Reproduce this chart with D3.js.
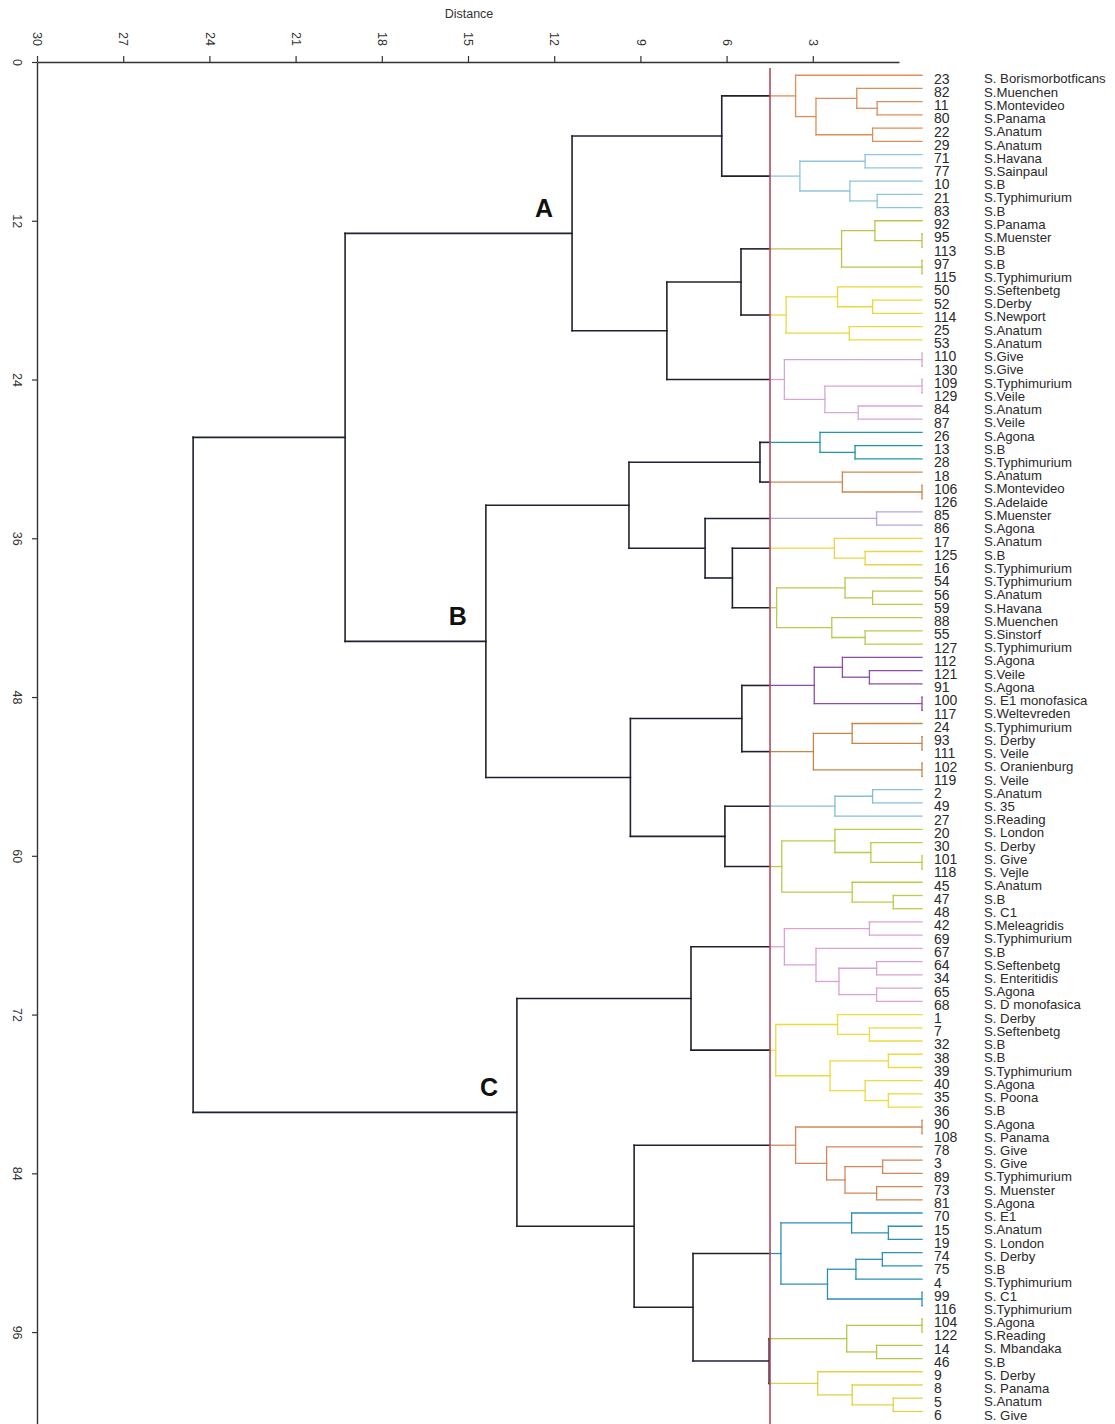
<!DOCTYPE html>
<html>
<head>
<meta charset="utf-8">
<script src="https://cdn.jsdelivr.net/npm/d3@7"></script>
<style>
  body { margin: 0; background: #fff; }
  svg { display: block; }
  text { font-family: "Liberation Sans", Arial, sans-serif; }
</style>
</head>
<body>
<svg id="chart" width="1115" height="1424"></svg>
<script>
// Isolate numbers, top to bottom in dendrogram order
const leafIds = [
  23, 82, 11, 80, 22, 29, 71, 77, 10, 21, 83, 92, 95, 113, 97, 115, 50, 52, 114, 25, 53,
  110, 130, 109, 129, 84, 87,
  26, 13, 28, 18, 106, 126, 85, 86, 17, 125, 16, 54, 56, 59, 88, 55, 127,
  112, 121, 91, 100, 117, 24, 93, 111, 102, 119, 2, 49, 27, 20, 30, 101, 118, 45, 47, 48,
  42, 69, 67, 64, 34, 65, 68, 1, 7, 32, 38, 39, 40, 35, 36,
  90, 108, 78, 3, 89, 73, 81, 70, 15, 19, 74, 75, 4, 99, 116, 104, 122, 14, 46, 9, 8, 5, 6
];

// Serovar of each isolate, same order
const leafNames = [
  "S. Borismorbotficans", "S.Muenchen", "S.Montevideo", "S.Panama", "S.Anatum", "S.Anatum",
  "S.Havana", "S.Sainpaul", "S.B", "S.Typhimurium", "S.B", "S.Panama", "S.Muenster", "S.B",
  "S.B", "S.Typhimurium", "S.Seftenbetg", "S.Derby", "S.Newport", "S.Anatum", "S.Anatum",
  "S.Give", "S.Give", "S.Typhimurium", "S.Veile", "S.Anatum", "S.Veile",
  "S.Agona", "S.B", "S.Typhimurium", "S.Anatum", "S.Montevideo", "S.Adelaide", "S.Muenster",
  "S.Agona", "S.Anatum", "S.B", "S.Typhimurium", "S.Typhimurium", "S.Anatum", "S.Havana",
  "S.Muenchen", "S.Sinstorf", "S.Typhimurium",
  "S.Agona", "S.Veile", "S.Agona", "S. E1 monofasica", "S.Weltevreden", "S.Typhimurium",
  "S. Derby", "S. Veile", "S. Oranienburg", "S. Veile", "S.Anatum", "S. 35", "S.Reading",
  "S. London", "S. Derby", "S. Give", "S. Vejle", "S.Anatum", "S.B", "S. C1",
  "S.Meleagridis", "S.Typhimurium", "S.B", "S.Seftenbetg", "S. Enteritidis", "S.Agona",
  "S. D monofasica", "S. Derby", "S.Seftenbetg", "S.B", "S.B", "S.Typhimurium", "S.Agona",
  "S. Poona", "S.B",
  "S.Agona", "S. Panama", "S. Give", "S. Give", "S.Typhimurium", "S. Muenster", "S.Agona",
  "S. E1", "S.Anatum", "S. London", "S. Derby", "S.B", "S.Typhimurium", "S. C1",
  "S.Typhimurium", "S.Agona", "S.Reading", "S. Mbandaka", "S.B", "S. Derby", "S. Panama",
  "S.Anatum", "S. Give"
];

// Agglomeration steps: [cluster id, first member, second member, distance]
// (numbers are isolates, strings are clusters formed earlier)
const merges = [
  ["a1", 11, 80, 1.56], ["a2", 82, "a1", 2.27], ["a3", 22, 29, 1.72], ["a4", "a2", "a3", 3.69],
  ["a5", 23, "a4", 4.40],
  ["a6", 71, 77, 1.98], ["a7", 21, 83, 1.56], ["a8", 10, "a7", 2.51], ["a9", "a6", "a8", 4.25],
  ["a10", "a5", "a9", 6.97],
  ["a11", 95, 113, 0], ["a12", 92, "a11", 1.64], ["a13", 97, 115, 0], ["a14", "a12", "a13", 2.80],
  ["a15", 52, 114, 1.72], ["a16", 50, "a15", 2.94], ["a17", 25, 53, 2.53], ["a18", "a16", "a17", 4.73],
  ["a19", "a14", "a18", 6.30],
  ["a20", 110, 130, 0], ["a21", 109, 129, 0], ["a22", 84, 87, 2.22], ["a23", "a21", "a22", 3.38],
  ["a24", "a20", "a23", 4.79],
  ["a25", "a19", "a24", 8.88],
  ["A", "a10", "a25", 12.18],

  ["b1", 13, 28, 2.33], ["b2", 26, "b1", 3.55], ["b3", 106, 126, 0], ["b4", 18, "b3", 2.77],
  ["b5", "b2", "b4", 5.64],
  ["b6", 85, 86, 1.58],
  ["b7", 125, 16, 1.98], ["b8", 17, "b7", 3.05],
  ["b9", 56, 59, 1.72], ["b10", 54, "b9", 2.68], ["b11", 55, 127, 1.98], ["b12", 88, "b11", 3.14],
  ["b13", "b10", "b12", 5.06],
  ["b14", "b8", "b13", 6.60], ["b15", "b6", "b14", 7.55], ["b16", "b5", "b15", 10.20],
  ["b17", 121, 91, 1.83], ["b18", 112, "b17", 2.77], ["b19", 100, 117, 0], ["b20", "b18", "b19", 3.75],
  ["b21", 93, 111, 0], ["b22", 24, "b21", 2.43], ["b23", 102, 119, 0], ["b24", "b22", "b23", 3.78],
  ["b25", "b20", "b24", 6.27],
  ["b26", 2, 49, 1.72], ["b27", "b26", 27, 3.03],
  ["b28", 101, 118, 0], ["b29", 30, "b28", 1.78], ["b30", 20, "b29", 3.03],
  ["b31", 47, 48, 1.00], ["b32", 45, "b31", 2.43], ["b33", "b30", "b32", 4.88],
  ["b34", "b27", "b33", 6.86], ["b35", "b25", "b34", 10.15],
  ["B", "b16", "b35", 15.18],

  ["c1", 42, 69, 1.83], ["c2", 64, 34, 1.58], ["c3", 65, 68, 1.58], ["c4", "c2", "c3", 2.89],
  ["c5", 67, "c4", 3.69], ["c6", "c1", "c5", 4.79],
  ["c7", 7, 32, 1.83], ["c8", 1, "c7", 2.94], ["c9", 38, 39, 1.17], ["c10", 35, 36, 1.17],
  ["c11", 40, "c10", 1.98], ["c12", "c9", "c11", 3.20], ["c13", "c8", "c12", 5.09],
  ["c14", "c6", "c13", 8.04],
  ["c15", 90, 108, 0], ["c16", 3, 89, 1.37], ["c17", 73, 81, 1.58], ["c18", "c16", "c17", 2.68],
  ["c19", 78, "c18", 3.32], ["c20", "c15", "c19", 4.40],
  ["c21", 15, 19, 1.17], ["c22", 70, "c21", 2.45], ["c23", 74, 75, 1.38], ["c24", "c23", 4, 2.30],
  ["c25", 99, 116, 0], ["c26", "c24", "c25", 3.29], ["c27", "c22", "c26", 4.91],
  ["c28", 104, 122, 0], ["c29", 14, 46, 1.58], ["c30", "c28", "c29", 2.62],
  ["c31", 5, 6, 1.00], ["c32", 8, "c31", 2.43], ["c33", 9, "c32", 3.63],
  ["c34", "c30", "c33", 5.32], ["c35", "c27", "c34", 7.97], ["c36", "c20", "c35", 10.02],
  ["C", "c14", "c36", 14.10],

  ["AB", "A", "B", 20.08],
  ["root", "AB", "C", 25.37]
];

// Clusters below the cut: first isolate, last isolate, colour
const groupFirst = [23, 71, 92, 50, 110, 26, 18, 85, 17, 54, 112, 24, 2, 20, 42, 1, 90, 70, 104, 9];
const groupLast  = [29, 83, 115, 53, 87, 28, 126, 86, 16, 127, 117, 119, 27, 48, 68, 36, 81, 116, 46, 6];
const groupColors = [
  "#dc8f58", "#8ec6dc", "#c2c24a", "#e9d83c", "#d4a8d6",
  "#1e96a8", "#c98850", "#b9a4dc", "#ecd448", "#bcc84e", "#8a4ea8", "#c3874a", "#86bedc", "#bccc48",
  "#dca2d2", "#ecdb3e", "#d1895a", "#2a90b8", "#b8c648", "#e2d244"
];

// Cut level and the main clusters it names
const cutDistance = 5.29;
const mainClusters = ["A", "B", "C"];

// Axis ticks
const distanceTicks = [30, 27, 24, 21, 18, 15, 12, 9, 6, 3];
const positionTicks = [0, 12, 24, 36, 48, 60, 72, 84, 96];

const svg = d3.select("#chart");
const dark = "#1e2230";

// Scales
const xAxisScale = d3.scaleLinear().domain([30, 0]).range([37, 899]);
const yScale = d3.scaleLinear().domain([0, 103]).range([62, 62 + 103 * 13.23]);
const xTree = d3.scaleLinear().domain([0, 30]).range([922, 922 - 30 * 28.73]);

// Build nodes
const nodes = new Map();
leafIds.forEach((id, i) => {
  nodes.set(id, { id, leaf: true, h: 0, y: yScale(i + 1), first: id, name: leafNames[i] });
});
merges.forEach(([id, a, b, h]) => {
  const na = nodes.get(a), nb = nodes.get(b);
  nodes.set(id, { id, leaf: false, h, children: [na, nb], y: (na.y + nb.y) / 2, first: na.first });
});

// Colour lookup for isolates
const leafColor = new Map();
groupFirst.forEach((f, g) => {
  const i0 = leafIds.indexOf(f), i1 = leafIds.indexOf(groupLast[g]);
  for (let i = i0; i <= i1; i++) leafColor.set(leafIds[i], groupColors[g]);
});
const colorOf = n => leafColor.get(n.first);

// Segments of the dendrogram
const segs = [];
function addSeg(x1, y1, x2, y2, color, w) { segs.push({ x1, y1, x2, y2, color, w }); }
const thinW = 1.3, thickW = 1.6;

merges.forEach(([id]) => {
  const n = nodes.get(id);
  const hx = xTree(n.h);
  const [c1, c2] = n.children;
  if (n.h < cutDistance) addSeg(hx, c1.y, hx, c2.y, colorOf(n), thinW);
  else addSeg(hx, c1.y, hx, c2.y, dark, thickW);
  n.children.forEach(c => {
    const cx = xTree(c.h);
    if (n.h < cutDistance) addSeg(hx, c.y, cx, c.y, colorOf(c), thinW);
    else if (c.h >= cutDistance) addSeg(hx, c.y, cx, c.y, dark, thickW);
    else {
      addSeg(hx, c.y, xTree(cutDistance), c.y, dark, thickW);
      addSeg(xTree(cutDistance), c.y, cx, c.y, colorOf(c), thinW);
    }
  });
});

svg.append("g").selectAll("line").data(segs).join("line")
  .attr("x1", d => d.x1).attr("y1", d => d.y1)
  .attr("x2", d => d.x2).attr("y2", d => d.y2)
  .attr("stroke", d => d.color).attr("stroke-width", d => d.w)
  .attr("stroke-linecap", "square");

// Cut line
svg.append("line")
  .attr("x1", xTree(cutDistance)).attr("x2", xTree(cutDistance))
  .attr("y1", 68).attr("y2", 1424)
  .attr("stroke", "#b34a5e").attr("stroke-width", 1.6);

// Axes
const topAxis = svg.append("g").attr("transform", "translate(0,62)")
  .call(d3.axisTop(xAxisScale).tickValues(distanceTicks).tickSize(6).tickSizeOuter(0));
topAxis.selectAll("text")
  .attr("transform", "rotate(90)").attr("x", -16).attr("y", 0).attr("dy", "0.35em")
  .attr("text-anchor", "end");

const leftAxis = svg.append("g").attr("transform", "translate(37,0)")
  .call(d3.axisLeft(yScale).tickValues(positionTicks).tickSize(5).tickSizeOuter(0));
leftAxis.selectAll("text")
  .attr("transform", "rotate(90)").attr("x", 0).attr("y", 24).attr("dy", 0)
  .attr("text-anchor", "middle");

[topAxis, leftAxis].forEach(g => {
  g.select(".domain").attr("stroke", "#333").attr("stroke-width", 1.4);
  g.selectAll(".tick line").attr("stroke", "#333").attr("stroke-width", 1.2);
  g.selectAll("text").attr("fill", "#333").attr("font-size", 12.5)
    .style("font-family", "'Liberation Sans', Arial, sans-serif");
});

svg.append("text").attr("x", 469).attr("y", 18).attr("text-anchor", "middle")
  .attr("font-size", 12.5).attr("fill", "#333").text("Distance");

// Isolate labels
const leafNodes = leafIds.map(id => nodes.get(id));
svg.append("g").selectAll("text").data(leafNodes).join("text")
  .attr("x", 934).attr("y", d => d.y + 3.5).attr("dy", "0.35em")
  .attr("font-size", 14).attr("fill", "#2a2a2a").text(d => d.id);
svg.append("g").selectAll("text").data(leafNodes).join("text")
  .attr("x", 984).attr("y", d => d.y + 3.5).attr("dy", "0.35em")
  .attr("font-size", 13.2).attr("fill", "#2a2a2a").text(d => d.name);

// Main cluster letters
svg.append("g").selectAll("text").data(mainClusters.map(k => nodes.get(k))).join("text")
  .attr("x", d => xTree(d.h) - 28).attr("y", d => d.y - 25)
  .attr("dy", "0.35em").attr("text-anchor", "middle")
  .attr("font-size", 25).attr("font-weight", "bold").attr("fill", "#111")
  .text(d => d.id);
</script>
</body>
</html>
